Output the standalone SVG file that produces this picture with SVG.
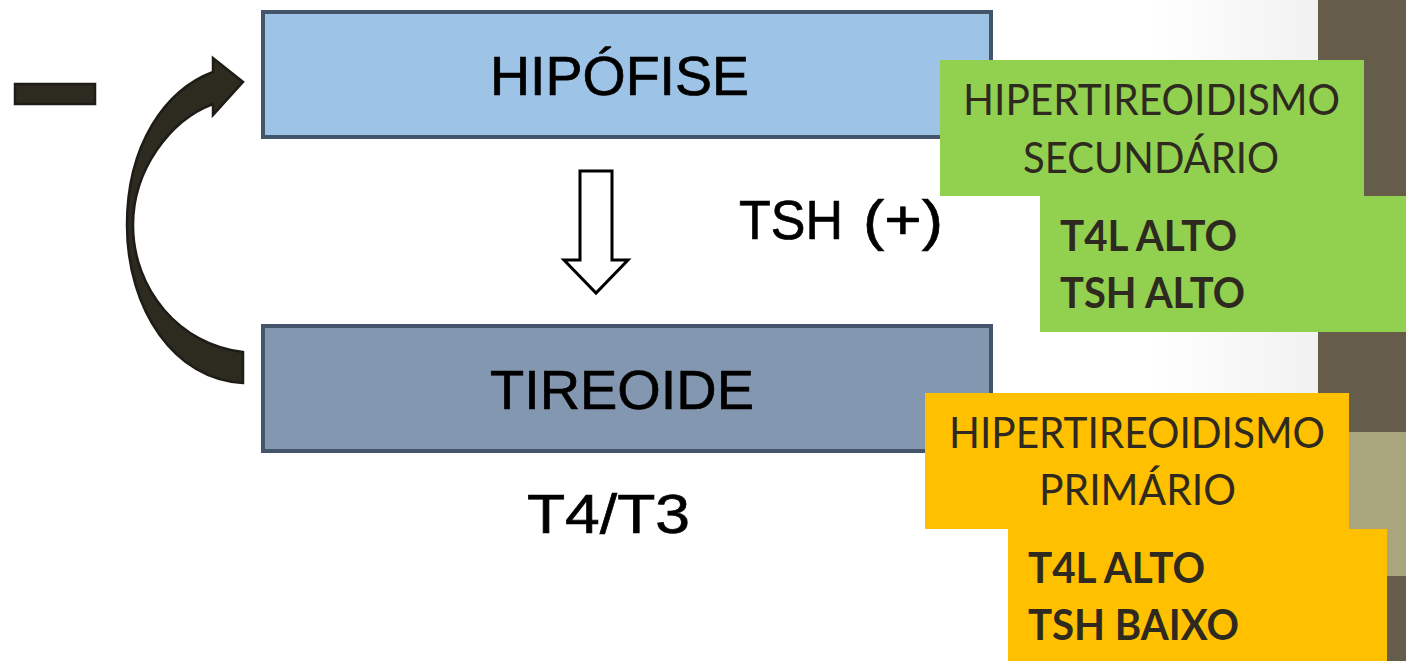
<svg xmlns="http://www.w3.org/2000/svg" width="1406" height="661" viewBox="0 0 1406 661">
<defs>
<linearGradient id="bgGrad" x1="0" y1="0" x2="1" y2="0">
<stop offset="0" stop-color="#ffffff"/>
<stop offset="1" stop-color="#f1f1f1"/>
</linearGradient>
<style>
.box{stroke:#44546a;stroke-width:4}
.lbl{font-family:"Liberation Sans",Arial,sans-serif;font-size:56px;fill:#000;stroke:#000;stroke-width:0.7}
.cal{font-family:Lato,"Liberation Sans",sans-serif;font-size:42px;fill:#2f2a1f}
.calb{font-family:Lato,"Liberation Sans",sans-serif;font-size:42px;font-weight:bold;fill:#2f2a1f}
.dark{fill:#2d2a20;stroke:#1e1c16;stroke-width:2.5}
</style>
</defs>
<rect width="1406" height="661" fill="#ffffff"/>
<rect x="1150" y="0" width="170" height="661" fill="url(#bgGrad)"/>
<g id="background-right">
<rect x="1318" y="0" width="88" height="661" fill="#655c49"/>
<rect x="1318" y="432" width="88" height="144" fill="#a9a57c"/>
</g>
<g id="minus">
<rect x="15" y="84" width="80" height="20" class="dark"/>
</g>
<g id="hipofise">
<rect x="263" y="12" width="728" height="125" fill="#9dc3e6" class="box"/>
<text x="490" y="95" class="lbl" textLength="259" lengthAdjust="spacingAndGlyphs">HIPÓFISE</text>
</g>
<g id="tireoide">
<rect x="263" y="326" width="728" height="125" fill="#8497b0" class="box"/>
<text x="490" y="409" class="lbl" textLength="264" lengthAdjust="spacingAndGlyphs">TIREOIDE</text>
</g>
<g id="t4t3">
<text x="527" y="533" class="lbl" textLength="163" lengthAdjust="spacingAndGlyphs">T4/T3</text>
</g>
<g id="tsh-label">
<text x="739" y="239" class="lbl" textLength="104" lengthAdjust="spacingAndGlyphs">TSH</text>
<text x="863" y="239" class="lbl" textLength="80" lengthAdjust="spacingAndGlyphs">(+)</text>
</g>
<g id="connectors">
<path d="M580 171 L612 171 L612 260 L628 260 L596 293 L564 260 L580 260 Z" fill="#ffffff" stroke="#000" stroke-width="3" stroke-linejoin="miter"/>
<path class="dark" d="M243 352 L243 383 C175 380 127 310 127 225 C127 145 165 90 213 72 L213 58 L243 82 L213 115 L213 104 C170 120 133 170 133 225 C133 290 180 345 243 352 Z"/>
</g>
<g id="secundario">
<rect x="940" y="60" width="424" height="136" fill="#92d050"/>
<rect x="1040" y="196" width="366" height="136" fill="#92d050"/>
<text x="963" y="115" class="cal" textLength="377" lengthAdjust="spacingAndGlyphs">HIPERTIREOIDISMO</text>
<text x="1023" y="173" class="cal" textLength="256" lengthAdjust="spacingAndGlyphs">SECUNDÁRIO</text>
<text x="1060" y="251" class="calb" textLength="177" lengthAdjust="spacingAndGlyphs">T4L ALTO</text>
<text x="1060" y="308" class="calb" textLength="185" lengthAdjust="spacingAndGlyphs">TSH ALTO</text>
</g>
<g id="primario">
<rect x="925" y="393" width="424" height="136" fill="#ffc000"/>
<rect x="1008" y="529" width="379" height="132" fill="#ffc000"/>
<text x="949" y="448" class="cal" textLength="376" lengthAdjust="spacingAndGlyphs">HIPERTIREOIDISMO</text>
<text x="1039" y="505" class="cal" textLength="197" lengthAdjust="spacingAndGlyphs">PRIMÁRIO</text>
<text x="1028" y="583" class="calb" textLength="177" lengthAdjust="spacingAndGlyphs">T4L ALTO</text>
<text x="1028" y="640" class="calb" textLength="211" lengthAdjust="spacingAndGlyphs">TSH BAIXO</text>
</g>
</svg>
